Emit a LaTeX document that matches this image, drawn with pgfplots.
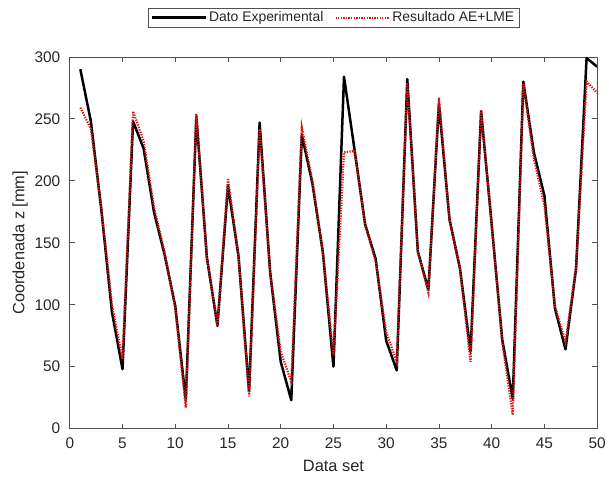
\documentclass[border=0pt]{standalone}
\usepackage{pgfplots}
\pgfplotsset{compat=1.18}
\usepackage{pgfplotstable}
\usepackage{fontspec}
\setmainfont{Liberation Sans}
\definecolor{txt}{RGB}{38,38,38}
\definecolor{axgray}{RGB}{80,80,80}
\definecolor{dred}{RGB}{220,20,20}
\pgfplotstableread{
x exp res
1 290 259
2 248 242
3 176 178
4 94 100
5 48 56
6 248 256
7 226 232
8 174 178
9 140 142
10 99 97
11 23 17
12 252 254
13 138 138
14 83 83
15 196 202
16 139 139
17 30 26
18 247 242
19 126 126
20 54 62
21 23 38
22 237 243
23 198 200
24 142 142
25 50 59
26 284 223
27 225 224
28 165 165
29 137 135
30 71 78
31 47 54
32 282 279
33 143 143
34 112 110
35 262 267
36 169 169
37 129 129
38 62 54
39 256 257
40 165 165
41 72 70
42 24 11
43 280 278
44 223 218
45 188 180
46 97 99
47 64 70
48 129 130
49 299 280
50 292 271
}\datatable
\begin{document}
\begin{tikzpicture}
\begin{axis}[
  scale only axis,
  width=529bp, height=373bp,
  xmin=0, xmax=50, ymin=0, ymax=300,
  xtick={0,5,...,50}, ytick={0,50,...,300},
  tick align=inside,
  major tick length=5bp,
  axis line style={axgray, line width=0.6bp},
  every tick/.style={axgray, line width=0.6bp},
  tick label style={font=\fontsize{15.5}{15.5}\selectfont, text=txt},
  xticklabel style={yshift=-6bp},
  yticklabel style={xshift=-6bp},
  /pgf/number format/assume math mode=true,
  label style={font=\fontsize{16.5}{16.5}\selectfont, text=txt},
  xlabel={Data set},
  ylabel={Coordenada z [mm]},
  xlabel style={yshift=-4bp},
  ylabel style={yshift=0bp},
  legend columns=2,
  legend style={at={(axis description cs:0.5,1.08)}, anchor=south,
    font=\fontsize{14}{14}\selectfont, text=txt, draw=axgray,
    inner xsep=3bp, inner ysep=1.5bp, row sep=0pt,
    /tikz/every even column/.append style={column sep=9bp}},
  legend image code/.code={\draw[#1] (0bp,0bp) -- (54bp,0bp);},
]
\addplot[black, line width=2.5bp, line join=round] table[x=x, y=exp] {\datatable};
\addlegendentry{Dato Experimental}
\addplot[dred, line width=2.2bp, dash pattern=on 1.3bp off 1.3bp] table[x=x, y=res] {\datatable};
\addlegendentry{Resultado AE+LME}
\end{axis}
\useasboundingbox (-70bp,-55bp) rectangle (539bp,430bp);
\end{tikzpicture}
\end{document}
